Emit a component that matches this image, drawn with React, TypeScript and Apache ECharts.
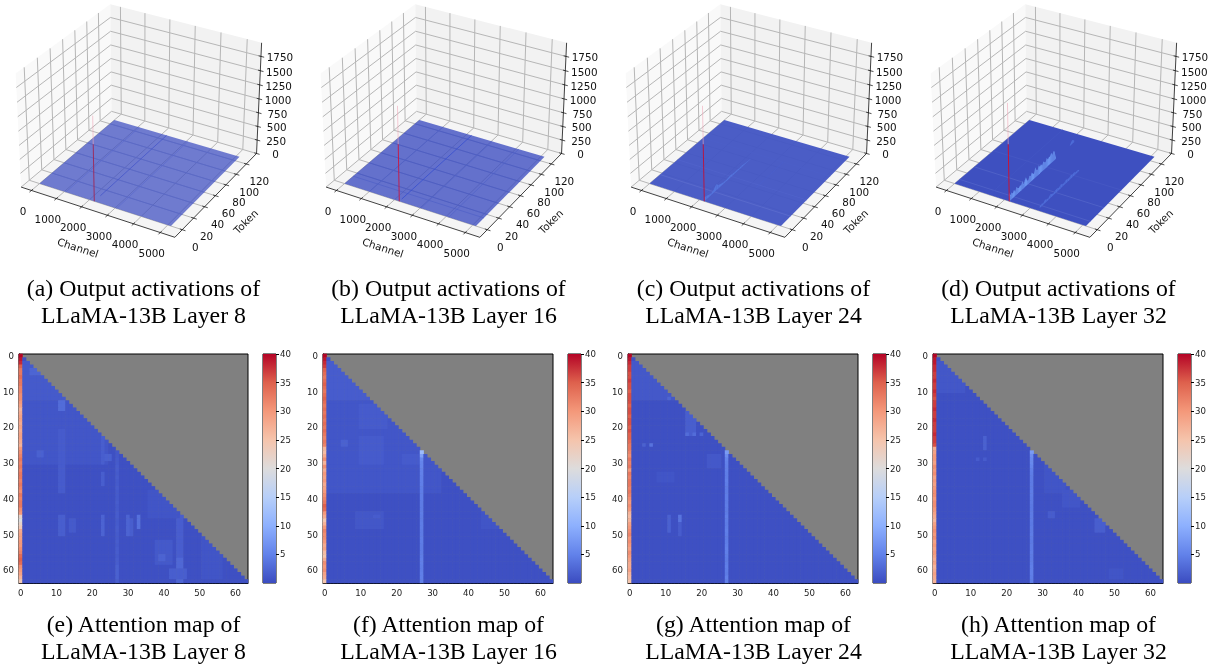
import React, { useEffect, useRef } from "react";
import * as echarts from "echarts";

const channelTicks = [0, 1000, 2000, 3000, 4000, 5000];
const tokenTicks = [0, 20, 40, 60, 80, 100, 120];
const valueTicks = [0, 250, 500, 750, 1000, 1250, 1500, 1750];
const colorbarTicks = [5, 10, 15, 20, 25, 30, 35, 40];
const captions = [
  "(a) Output activations of\nLLaMA-13B Layer 8",
  "(b) Output activations of\nLLaMA-13B Layer 16",
  "(c) Output activations of\nLLaMA-13B Layer 24",
  "(d) Output activations of\nLLaMA-13B Layer 32",
  "(e) Attention map of\nLLaMA-13B Layer 8",
  "(f) Attention map of\nLLaMA-13B Layer 16",
  "(g) Attention map of\nLLaMA-13B Layer 24",
  "(h) Attention map of\nLLaMA-13B Layer 32",
];
const coolwarm = ["#3b4cc0", "#6282ea", "#8db0fe", "#b7cff9", "#dddcdc", "#f5c4ac", "#f4987a", "#de614d", "#b40426"];

// 3-D panels
const channelLimits = [-420, 5540];
const tokenLimits = [-12.8, 140.8];
const valueLimits = [0, 1985];
const surfaceChannels = [0, 5120];
const surfaceTokens = [0, 128];
const surfaceFills = ["rgba(59,76,192,0.72)", "rgba(59,76,192,0.78)", "rgba(68,86,196,0.96)", "rgba(62,80,192,1)"];
const spikeChannel = 2190;
const spikeTops = [1500, 1665, 1665, 1715];
const spikeSplits = [1010, 1010, 1010, 1010];
const spikeLow = ["#9c2a5c", "#c41a48", "#b81440", "#cf1030"];

// [channel, token from, token to, colour]
const channelStreaksA = [[2190, 10, 128, "#3f50c8"], [1060, 0, 128, "#5a6acc"], [3060, 0, 128, "#5a6acc"]];
const channelStreaksB = [[2190, 4, 128, "#2f48d0"], [4100, 0, 128, "#5163c8"], [1000, 0, 128, "#5163c8"], [3030, 0, 128, "#5163c8"]];
const channelStreaksC = [[3280, 40, 90, "#4a5fcc"]];
const channelStreaksD = [[1400, 0, 128, "#4356c4"]];
// [token, colour]
const tokenStreaksA = [[20, "#5a6acc"], [40, "#5a6acc"], [60, "#5a6acc"], [80, "#5a6acc"], [100, "#5a6acc"], [120, "#5a6acc"]];
const tokenStreaksB = [[14, "#4a5cc6"], [20, "#4a5cc6"], [40, "#4a5cc6"], [60, "#4a5cc6"], [80, "#4a5cc6"], [100, "#4a5cc6"], [120, "#4a5cc6"]];
const tokenStreaksC = [[17, "#6273d0"], [46, "#5265cc"], [90, "#4c60ca"]];
const tokenStreaksD = [[32, "#5c6ecc"], [8, "#5a6ccc"], [64, "#4a5cc6"]];
// [channel, first token, token step, colour, heights]
const ridgesC = [[2190, 0, 4, "#5474dc", [70, 60, 40, 30, 60, 110, 60, 40, 30, 25, 30, 40, 30, 25, 30, 20, 30, 20, 15, 10, 6]]];
const ridgesD = [
  [2190, 0, 2, "#6a94f0", [160, 90, 120, 80, 130, 70, 140, 100, 80, 110, 90, 150, 70, 120, 160, 80, 60, 130, 100, 150, 110, 90, 190, 120, 100, 170, 120, 150, 100, 160, 130, 110, 170, 120, 150, 140, 190, 130, 180, 160, 30]],
  [3280, 4, 3, "#4e6cd8", [30, 50, 25, 60, 40, 30, 70, 45, 35, 55, 60, 40, 70, 50, 35, 65, 55, 40, 70, 50, 60, 30, 40, 20]],
  [2190, 106, 2, "#4e6cd8", [20, 50, 70, 60, 30]],
];
const channelStreakSets = [channelStreaksA, channelStreaksB, channelStreaksC, channelStreaksD];
const tokenStreakSets = [tokenStreaksA, tokenStreaksB, tokenStreaksC, tokenStreaksD];
const ridgeSets = [[], [], ridgesC, ridgesD];

// heat maps
const firstColumnE = [40, 39, 38, 35, 33, 33, 34, 33, 33, 32, 32, 31, 31, 30, 29, 27, 28, 29, 29, 28, 29, 28, 29, 29, 28, 27, 30, 31, 32, 33, 32, 33, 32, 33, 33, 32, 33, 32, 31, 33, 32, 33, 33, 31, 30, 22, 20, 22, 24, 28, 29, 29, 30, 30, 31, 32, 34, 35, 34, 31, 30, 29, 27, 24];
const firstColumnF = [40, 39, 38, 37, 35, 34, 33, 34, 35, 34, 33, 34, 35, 34, 33, 34, 33, 34, 33, 34, 33, 34, 33, 32, 33, 32, 27, 26, 28, 31, 27, 31, 28, 30, 29, 30, 28, 29, 30, 31, 32, 33, 35, 34, 30, 28, 25, 27, 30, 32, 31, 31, 30, 28, 29, 26, 25, 28, 31, 30, 31, 29, 28, 25];
const firstColumnG = [40, 39, 38, 37, 37, 36, 36, 37, 36, 36, 35, 36, 36, 36, 35, 36, 36, 35, 36, 36, 35, 36, 35, 35, 34, 33, 33, 32, 31, 33, 32, 33, 30, 33, 32, 33, 33, 32, 33, 32, 31, 30, 31, 30, 27, 26, 27, 29, 30, 31, 32, 30, 31, 30, 29, 31, 30, 29, 28, 28, 29, 27, 26, 25];
const firstColumnH = [40, 39, 39, 38, 38, 37, 37, 38, 37, 37, 38, 37, 36, 37, 37, 38, 37, 37, 38, 37, 37, 37, 38, 37, 37, 36, 28, 29, 30, 30, 29, 31, 30, 31, 29, 30, 29, 30, 31, 31, 30, 31, 31, 30, 29, 28, 27, 29, 30, 31, 30, 31, 29, 30, 29, 30, 29, 28, 29, 27, 28, 29, 28, 27];
const firstColumns = [firstColumnE, firstColumnF, firstColumnG, firstColumnH];

// column 27, rows 27 to 63
const column27E = [1.4, 1.4, 1.6, 1.6, 1.8, 1.8, 1.6, 1.8, 1.6, 1.6, 1.8, 1.6, 1.6, 1.6, 1.8, 1.6, 1.6, 1.8, 1.8, 1.6, 1.6, 1.8, 1.8, 1.6, 1.6, 1.8, 1.6, 1.8, 1.8, 1.6, 1.8, 1.8, 2.2, 2.2, 2.2, 2.2, 2];
const column27F = [12, 8.5, 6, 5.5, 5.5, 5.2, 5.2, 5, 5, 5, 4.8, 4.8, 4.8, 4.8, 4.6, 4.6, 4.6, 4.8, 4.6, 4.6, 4.8, 4.8, 4.6, 4.6, 4.8, 4.8, 4.6, 4.6, 4.6, 4.8, 5, 5, 4.8, 4.8, 5, 5, 5];
const column27G = [8, 6.5, 5.5, 5.2, 5, 5, 4.8, 4.8, 5, 4.8, 4.6, 4.6, 4.8, 4.8, 4.6, 4.8, 4.6, 4.6, 5, 4.8, 4.6, 4.8, 5, 4.8, 4.6, 4.8, 5, 5.2, 5, 4.8, 4.6, 4.8, 5, 4.8, 4.6, 5.2, 5];
const column27H = [8, 6.5, 6, 6, 5.5, 5, 4.8, 4.6, 4.6, 4.6, 4.6, 4.8, 4.8, 4.6, 4.6, 4.4, 4.4, 4.6, 4.6, 4.6, 4.4, 4.6, 4.6, 4.8, 4.6, 4.4, 4.6, 4.6, 4.8, 4.6, 4.6, 4.8, 5, 5, 5, 4.8, 4.8];
const hotColumns = [column27E, column27F, column27G, column27H];

const baseValue = 0.7;
// [column from, column to, row from, row to, value]
const patchesE = [
  [1, 24, 3, 30, 1.2], [1, 12, 2, 12, 1.6], [3, 5, 4, 5, 2.6], [11, 12, 13, 15, 3.2], [23, 23, 20, 30, 2],
  [11, 12, 21, 38, 1.7], [23, 23, 33, 36, 2], [23, 23, 45, 50, 2.4], [30, 30, 45, 50, 2.4], [33, 33, 45, 48, 3.6],
  [31, 31, 46, 50, 2], [11, 12, 45, 50, 2], [14, 15, 46, 49, 1.6], [44, 45, 44, 56, 1.9], [44, 45, 57, 59, 2.8],
  [44, 45, 60, 63, 2.6], [38, 42, 52, 58, 1.5], [39, 40, 56, 57, 2.4], [42, 46, 60, 62, 2], [51, 56, 50, 62, 1.1],
  [5, 6, 27, 28, 2.2], [24, 25, 28, 29, 2.2], [36, 44, 38, 45, 1.1],
];
const patchesF = [
  [1, 32, 2, 38, 1.2], [1, 15, 2, 12, 1.8], [10, 17, 14, 20, 1.7], [5, 6, 24, 25, 2.2], [10, 16, 23, 30, 1.7],
  [22, 26, 28, 30, 1.7], [9, 16, 44, 48, 1.3], [14, 15, 45, 45, 1.8], [44, 52, 42, 48, 1.1],
];
const patchesG = [
  [1, 14, 2, 12, 1.4], [11, 11, 12, 12, 2.6], [16, 18, 16, 22, 2], [16, 16, 22, 22, 3.2], [18, 18, 22, 22, 3.2],
  [20, 20, 22, 22, 2.6], [6, 6, 25, 25, 3.8], [4, 4, 25, 25, 2.2], [14, 14, 45, 46, 4], [11, 11, 45, 49, 2.2],
  [14, 14, 47, 50, 1.8], [22, 25, 28, 31, 1.4], [8, 12, 33, 35, 1.1],
];
const patchesH = [
  [1, 8, 2, 10, 1.3], [14, 14, 23, 26, 2.2], [12, 12, 29, 29, 1.8], [14, 14, 29, 29, 1.8], [32, 33, 44, 45, 1.8],
  [36, 38, 41, 41, 1.5], [45, 47, 46, 49, 2], [31, 36, 31, 38, 1.1], [36, 40, 38, 42, 1.2], [49, 52, 60, 62, 1.1],
];
const patchSets = [patchesE, patchesF, patchesG, patchesH];

const rowIndex = Array.from({ length: 64 }, (_, i) => String(i));

function heatCells(panel: number) {
  const cells: number[][] = [];
  for (let y = 0; y < 64; y++) {
    for (let x = 0; x <= y; x++) {
      let v = baseValue;
      for (const p of patchSets[panel]) {
        if (x >= p[0] && x <= p[1] && y >= p[2] && y <= p[3]) v = p[4];
      }
      if (x === 0) v = firstColumns[panel][y];
      if (x === 27 && y >= 27) v = hotColumns[panel][y - 27];
      cells.push([x, y, v]);
    }
  }
  return cells;
}

// perspective of the 3-D axes (elevation 30, azimuth -60, as in the reference)
const boxX = 1.19;
const boxZ = 0.875;
const panelStep = 305;
const viewX = 141;
const viewY = 114;
const viewScale = 148;

function project(panel: number, nx: number, ny: number, nz: number) {
  const x = (nx - 0.5) * boxX;
  const y = (ny - 0.5) * boxX;
  const z = nz * boxZ - 0.4465;
  const xv = 0.866 * x + 0.5 * y;
  const yv = -0.25 * x + 0.433 * y + 0.866 * z;
  const d = 0.433 * x - 0.75 * y + 0.5 * z;
  const f = 10 / (10 - d);
  return [viewX + panel * panelStep + viewScale * xv * f, viewY - viewScale * yv * f];
}
const nc = (c: number) => (c - channelLimits[0]) / (channelLimits[1] - channelLimits[0]);
const nt = (t: number) => (t - tokenLimits[0]) / (tokenLimits[1] - tokenLimits[0]);
const nv = (v: number) => (v - valueLimits[0]) / (valueLimits[1] - valueLimits[0]);

const line = (a: number[], b: number[], stroke: string, lineWidth = 0.8, opacity = 1) => ({
  type: "line",
  shape: { x1: a[0], y1: a[1], x2: b[0], y2: b[1] },
  style: { stroke, lineWidth, opacity, fill: null },
  silent: true,
});
const poly = (points: number[][], fill: string) => ({ type: "polygon", shape: { points }, style: { fill }, silent: true });
const label = (text: string, at: number[], fontSize = 10.4, rotation = 0) => ({
  type: "text",
  x: at[0],
  y: at[1],
  rotation,
  silent: true,
  style: { text, fontSize, fontFamily: "DejaVu Sans", fill: "#111", align: "center", verticalAlign: "middle" },
});
const shift = (p: number[], dx: number, dy: number) => [p[0] + dx, p[1] + dy];

function frameItem(panel: number) {
  const P = (x: number, y: number, z: number) => project(panel, x, y, z);
  const grid = "#b6b6b6";
  const children: any[] = [
    poly([P(0, 0, 0), P(0, 1, 0), P(0, 1, 1), P(0, 0, 1)], "#f9f9f9"),
    poly([P(0, 1, 0), P(1, 1, 0), P(1, 1, 1), P(0, 1, 1)], "#f2f2f2"),
    poly([P(0, 0, 0), P(1, 0, 0), P(1, 1, 0), P(0, 1, 0)], "#f5f5f5"),
  ];
  for (const c of channelTicks) {
    children.push(line(P(nc(c), 0, 0), P(nc(c), 1, 0), grid, 1), line(P(nc(c), 1, 0), P(nc(c), 1, 1), grid, 1));
    children.push(line(P(nc(c), -0.02, 0), P(nc(c), 0.015, 0), "#222"));
    children.push(label(String(c), shift(P(nc(c), 0, 0), -8.5, 20.5)));
  }
  for (const t of tokenTicks) {
    children.push(line(P(0, nt(t), 0), P(1, nt(t), 0), grid, 1), line(P(0, nt(t), 0), P(0, nt(t), 1), grid, 1));
    children.push(line(P(0.985, nt(t), 0), P(1.02, nt(t), 0), "#222"));
    children.push(label(String(t), shift(P(1, nt(t), 0), 13, 17.5)));
  }
  for (const v of valueTicks) {
    children.push(line(P(0, 0, nv(v)), P(0, 1, nv(v)), grid, 1), line(P(0, 1, nv(v)), P(1, 1, nv(v)), grid, 1));
    children.push(line(P(0.985, 1, nv(v)), P(1.02, 1, nv(v)), "#222"));
    children.push(label(String(v), shift(P(1, 1, nv(v)), 19, 1)));
  }
  children.push(line(P(0, 0, 0), P(1, 0, 0), "#111"), line(P(1, 0, 0), P(1, 1, 0), "#111"), line(P(1, 1, 0), P(1, 1, 1), "#111"));
  children.push(label("Channel", shift(P(0.5, 0, 0), -18, 36), 10.4, (-18 * Math.PI) / 180));
  children.push(label("Token", shift(P(1, 0.5, 0), 28, 28), 10.4, (45 * Math.PI) / 180));
  return { type: "group", children };
}

function surfaceItem(panel: number) {
  const P = (c: number, t: number, v: number) => project(panel, nc(c), nt(t), nv(v));
  const [c0, c1] = surfaceChannels;
  const [t0, t1] = surfaceTokens;
  const children: any[] = [poly([P(c0, t0, 0), P(c1, t0, 0), P(c1, t1, 0), P(c0, t1, 0)], surfaceFills[panel])];
  for (const s of tokenStreakSets[panel]) {
    children.push(line(P(c0, s[0] as number, 0), P(c1, s[0] as number, 0), s[1] as string, 0.7, 0.8));
  }
  for (const s of channelStreakSets[panel]) {
    children.push(line(P(s[0] as number, s[1] as number, 0), P(s[0] as number, s[2] as number, 0), s[3] as string, 0.8, 0.85));
  }
  for (const r of ridgeSets[panel] as any[]) {
    const [c, first, step, color, heights] = r;
    heights.forEach((h: number, i: number) => {
      if (i === heights.length - 1) return;
      const a = first + i * step;
      const b = a + step;
      children.push(poly([P(c, a, 0), P(c, b, 0), P(c, b, heights[i + 1]), P(c, a, h)], color));
    });
  }
  children.push(line(P(spikeChannel, 0, 0), P(spikeChannel, 0, spikeSplits[panel]), spikeLow[panel], 1, 0.95));
  children.push(line(P(spikeChannel, 0, spikeSplits[panel]), P(spikeChannel, 0, spikeTops[panel]), "#f0a8b8", 0.8, 0.75));
  return { type: "group", children };
}

const heatLeft = 18;
const heatTop = 354;
const heatWidth = 230;
const heatHeight = 229;
const barLeft = 263;
const barWidth = 13;

const axisText = { fontFamily: "DejaVu Sans", fontSize: 8.6, color: "#222" };
const axisLineStyle = { lineStyle: { color: "#000", width: 1 } };
const every10 = (i: number) => i % 10 === 0;

function buildOption() {
  const grids: any[] = [];
  const xAxes: any[] = [];
  const yAxes: any[] = [];
  const series: any[] = [];
  for (let p = 0; p < 4; p++) {
    grids.push({
      left: heatLeft + p * panelStep,
      top: heatTop,
      width: heatWidth,
      height: heatHeight,
      show: true,
      backgroundColor: "#808080",
      borderColor: "#000",
      borderWidth: 1,
    });
    xAxes.push({
      gridIndex: p,
      type: "category",
      data: rowIndex,
      axisLabel: { ...axisText, interval: every10, margin: 5 },
      axisTick: { interval: every10, alignWithLabel: true, length: 3, lineStyle: { color: "#000" } },
      axisLine: axisLineStyle,
    });
    yAxes.push({
      gridIndex: p,
      type: "category",
      inverse: true,
      data: rowIndex,
      axisLabel: { ...axisText, interval: every10, margin: 5 },
      axisTick: { interval: every10, alignWithLabel: true, length: 3, lineStyle: { color: "#000" } },
      axisLine: axisLineStyle,
    });
    series.push({
      type: "heatmap",
      xAxisIndex: p,
      yAxisIndex: p,
      data: heatCells(p),
      progressive: 0,
      silent: true,
    });
  }
  for (let p = 0; p < 4; p++) {
    grids.push({
      left: barLeft + p * panelStep,
      top: heatTop,
      width: barWidth,
      height: heatHeight,
      show: true,
      borderColor: "#000",
      borderWidth: 1,
    });
    xAxes.push({ gridIndex: 4 + p, type: "category", data: ["scale"], show: false });
    yAxes.push({
      gridIndex: 4 + p,
      type: "value",
      position: "right",
      min: 0,
      max: 40,
      splitLine: { show: false },
      axisLine: { show: false },
      axisLabel: { ...axisText, margin: 4, customValues: colorbarTicks },
      axisTick: { show: true, length: 3, customValues: colorbarTicks, lineStyle: { color: "#000" } },
    });
    series.push({
      type: "bar",
      xAxisIndex: 4 + p,
      yAxisIndex: 4 + p,
      barWidth: "100%",
      data: [40],
      silent: true,
      itemStyle: {
        color: new echarts.graphic.LinearGradient(
          0,
          1,
          0,
          0,
          coolwarm.map((color, i) => ({ offset: i / (coolwarm.length - 1), color }))
        ),
      },
    });
  }
  for (let p = 0; p < 4; p++) {
    series.push({
      type: "custom",
      coordinateSystem: "none",
      data: [p],
      silent: true,
      renderItem: () => frameItem(p),
      z: 2,
    });
    series.push({
      type: "custom",
      coordinateSystem: "none",
      data: [p],
      silent: true,
      renderItem: () => surfaceItem(p),
      z: 3,
    });
  }
  const captionCentres = [143.5, 448.5, 753.5, 1058.5];
  const title = captions.map((text, i) => ({
    text,
    left: captionCentres[i % 4],
    top: i < 4 ? 275 : 611,
    textAlign: "center",
    padding: 0,
    textStyle: { fontFamily: "Liberation Serif", fontSize: 23.8, fontWeight: "normal", color: "#000", lineHeight: 26.5 },
  }));
  return {
    animation: false,
    backgroundColor: "#fff",
    title,
    grid: grids,
    xAxis: xAxes,
    yAxis: yAxes,
    visualMap: {
      type: "continuous",
      show: false,
      min: 0.3,
      max: 40,
      seriesIndex: [0, 1, 2, 3],
      dimension: 2,
      inRange: { color: coolwarm },
    },
    series,
  };
}

export default function App() {
  const ref = useRef<HTMLDivElement>(null);
  useEffect(() => {
    const chart = echarts.init(ref.current!, null, { renderer: "svg", width: 1220, height: 666 });
    chart.setOption(buildOption() as any);
    return () => chart.dispose();
  }, []);
  return <div ref={ref} style={{ position: "absolute", left: 0, top: 0, width: 1220, height: 666, filter: "blur(0.4px)" }} />;
}
